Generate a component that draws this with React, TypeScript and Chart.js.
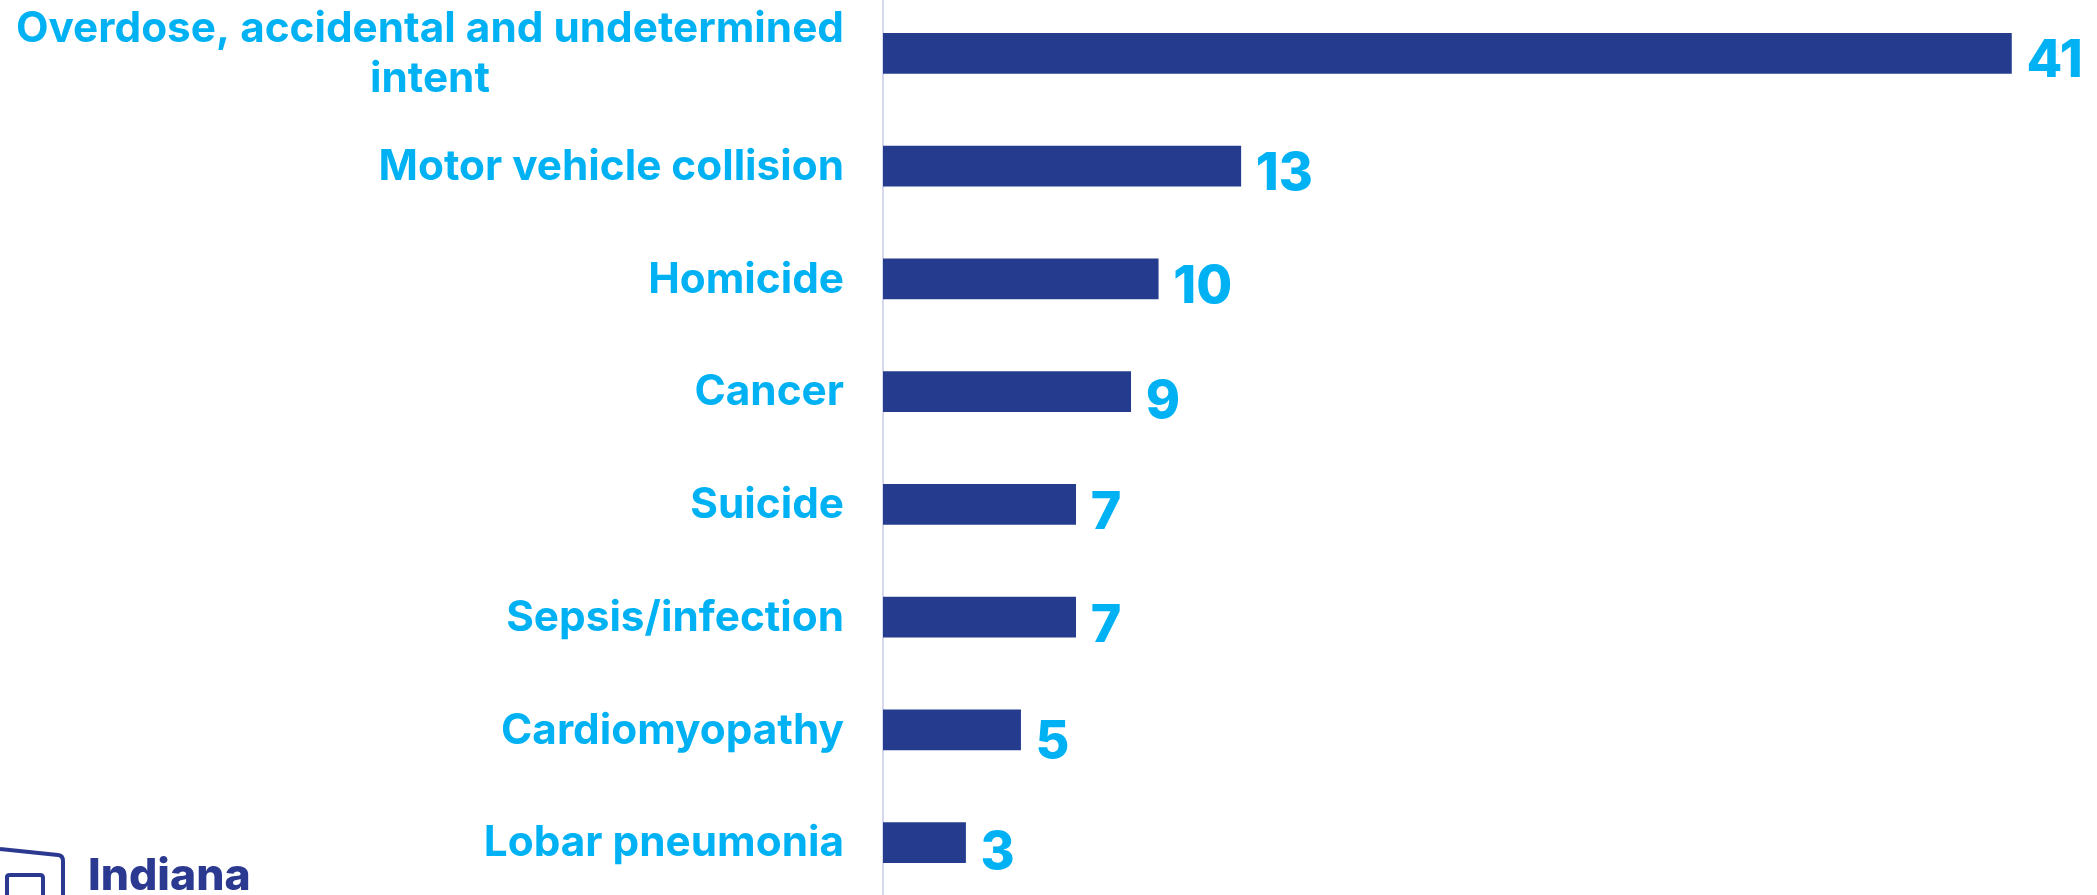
import React, { useEffect, useRef } from "react";
import { Chart, registerables } from "chart.js";

Chart.register(...registerables);

const categories: string[][] = [
  ["Overdose, accidental and undetermined", "intent"],
  ["Motor vehicle collision"],
  ["Homicide"],
  ["Cancer"],
  ["Suicide"],
  ["Sepsis/infection"],
  ["Cardiomyopathy"],
  ["Lobar pneumonia"],
];
const deaths = [41, 13, 10, 9, 7, 7, 5, 3];

const BAR = "#253c8e";
const TEXT = "#00b2f3";
const AXIS = "#d5d9f0";
const LABEL_FONT = "700 42.3px Inter";
const VALUE_FONT = "800 52px Inter";

// The reference's numerals are old-style: some digits sit lower than others.
const digitDrop = (v: number) => (v === 3 || v === 9 ? 11 : v === 5 ? 12 : v === 7 ? 9 : 8);

const labelsPlugin = {
  id: "labels",
  afterDatasetsDraw(chart: any) {
    const { ctx } = chart;
    const y = chart.scales.y;
    const x = chart.scales.x;
    ctx.save();
    ctx.fillStyle = TEXT;
    ctx.textBaseline = "middle";
    ctx.font = LABEL_FONT;
    categories.forEach((lines, i) => {
      const cy = y.getPixelForTick(i) + 1;
      const right = x.left - 39;
      const widest = Math.max(...lines.map((l) => ctx.measureText(l).width));
      lines.forEach((line, j) => {
        const ly = cy + (j - (lines.length - 1) / 2) * 50;
        if (lines.length > 1) {
          ctx.textAlign = "center";
          ctx.fillText(line, right - widest / 2, ly);
        } else {
          ctx.textAlign = "right";
          ctx.fillText(line, right, ly);
        }
      });
    });
    ctx.font = VALUE_FONT;
    ctx.textAlign = "left";
    deaths.forEach((v, i) => {
      ctx.fillText(String(v), x.getPixelForValue(v) + 15, y.getPixelForTick(i) + digitDrop(v));
    });
    ctx.restore();
  },
};

export default function App() {
  const ref = useRef<HTMLCanvasElement>(null);
  useEffect(() => {
    document.body.style.margin = "0";
    document.body.style.overflow = "hidden";
    const chart = new Chart(ref.current!, {
      type: "bar",
      data: {
        labels: categories.map((c) => c.join(" ")),
        datasets: [
          {
            data: deaths,
            backgroundColor: BAR,
            barThickness: 40,
          },
        ],
      },
      options: {
        indexAxis: "y",
        animation: false,
        responsive: false,
        layout: { padding: { top: 0, bottom: 0, left: 0, right: 3 } },
        plugins: { legend: { display: false }, tooltip: { enabled: false } },
        scales: {
          x: { display: false, min: 0, max: 44 },
          y: {
            afterFit(scale: any) {
              scale.width = 883;
            },
            grid: { display: false, drawTicks: false },
            border: { display: true, color: AXIS, width: 2 },
            ticks: { display: false },
          },
        },
      },
      plugins: [labelsPlugin],
    } as any);
    return () => chart.destroy();
  }, []);

  return (
    <div style={{ position: "relative", width: 2097, height: 895, overflow: "hidden", background: "#fff" }}>
      <canvas ref={ref} width={2097} height={902} style={{ position: "absolute", left: 0, top: -3, display: "block" }} />
      <svg width={400} height={115} style={{ position: "absolute", left: 0, top: 780 }}>
        <path d="M0 69 L58 75 Q63 75.500 63 81 L63 115" fill="none" stroke="#2b3990" strokeWidth={4} />
        <path d="M7 115 L7 97 Q7 95 10 95 L40 95 Q43 95 43 98 L43 115" fill="none" stroke="#2b3990" strokeWidth={4} />
        <text x={88} y={110} fontFamily="Inter" fontWeight={800} fontSize={44.5} fill="#2b3990">Indiana</text>
      </svg>
    </div>
  );
}
